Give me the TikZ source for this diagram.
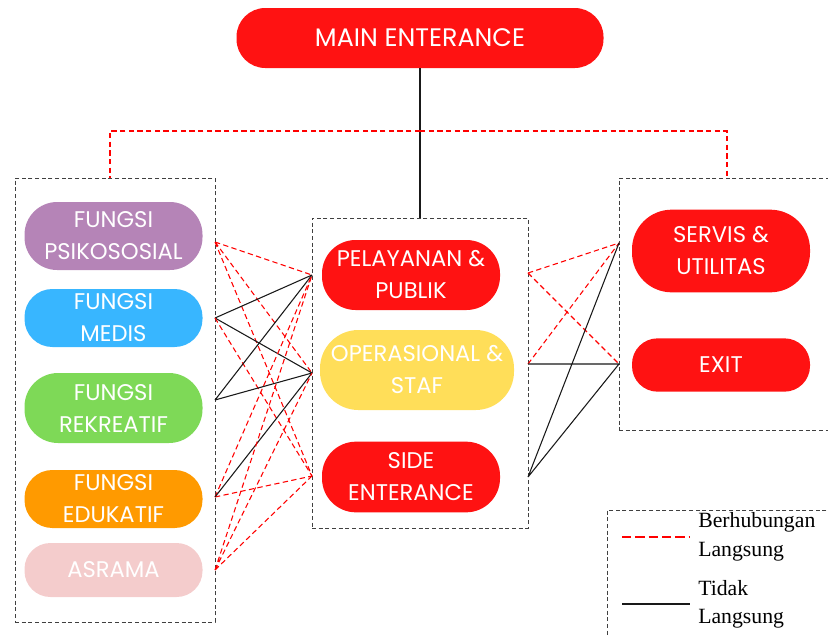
\documentclass[tikz,border=0pt]{standalone}
\usepackage{fontspec}
\setmainfont{Poppins}
\newfontfamily\legendfont{Liberation Serif}
\usetikzlibrary{positioning}

\definecolor{pillred}{HTML}{FF1212}
\definecolor{pillpurple}{HTML}{B584B7}
\definecolor{pillblue}{HTML}{38B6FF}
\definecolor{pillgreen}{HTML}{7ED957}
\definecolor{pillorange}{HTML}{FF9A00}
\definecolor{pillpink}{HTML}{F4CCCC}
\definecolor{pillyellow}{HTML}{FFDE59}

\tikzset{
	pill/.style 2 args={fill=#1, text=white, align=center, inner sep=0pt,
		minimum width=133.5pt, minimum height=#2, rounded corners=0.48*#2,
		font=\fontsize{17}{24}\selectfont},
	groupbox/.style={draw=black!75, dash pattern=on 3pt off 2pt, line width=0.75pt, inner sep=0pt},
	direct/.style={draw=red, dash pattern=on 4pt off 2.5pt, line width=0.8pt},
	indirect/.style={draw=black!90, line width=0.8pt},
	legendtext/.style={anchor=west, inner sep=0pt, font=\legendfont\fontsize{16.3}{18}\selectfont},
}

\begin{document}
\begin{tikzpicture}[x=0.75pt, y=-0.75pt]
	\useasboundingbox (0,0) rectangle (828,636);
	\node[groupbox, minimum width=150pt, minimum height=333pt] (leftbox) at (115,400) {};
	\node[groupbox, minimum width=162pt, minimum height=232.5pt] (midbox) at (420,373) {};
	\node[groupbox, minimum width=162pt, minimum height=189pt] (rightbox) at (727,304) {};
	\node[groupbox, minimum width=174.75pt, minimum height=105pt] (legendbox) at (723.5,580) {};
	\node[pill={pillred}{45pt}, minimum width=275.25pt, font=\fontsize{19}{20}\selectfont] (main) at (420,38) {MAIN ENTERANCE};
	\node[pill={pillpurple}{51pt}] (psiko) at (113.5,236) {FUNGSI\\PSIKOSOSIAL};
	\node[pill={pillblue}{43.5pt}] (medis) at (113.5,318) {FUNGSI\\MEDIS};
	\node[pill={pillgreen}{52.5pt}] (rekreatif) at (113.5,408) {FUNGSI\\REKREATIF};
	\node[pill={pillorange}{43.5pt}] (edukatif) at (113.5,499) {FUNGSI\\EDUKATIF};
	\node[pill={pillpink}{40.5pt}] (asrama) at (113.5,570) {ASRAMA};
	\node[pill={pillred}{52.5pt}] (pelayanan) at (411,275) {PELAYANAN \&\\PUBLIK};
	\node[pill={pillyellow}{60pt}, minimum width=145.5pt] (operasional) at (417,370) {OPERASIONAL \&\\STAF};
	\node[pill={pillred}{53pt}] (side) at (411,477) {SIDE\\ENTERANCE};
	\node[pill={pillred}{62pt}] (servis) at (721,251) {SERVIS \&\\UTILITAS};
	\node[pill={pillred}{40pt}] (exit) at (721,365) {EXIT};

	\coordinate (l1) at (215,242);
	\coordinate (l2) at (215,318);
	\coordinate (l3) at (215,400);
	\coordinate (l4) at (215,497);
	\coordinate (l5) at (215,570);
	\coordinate (m1) at (312,275);
	\coordinate (m2) at (312,373);
	\coordinate (m3) at (312,476);
	\coordinate (n1) at (528,273);
	\coordinate (n2) at (528,364);
	\coordinate (n3) at (528,477);
	\coordinate (r1) at (619,243);
	\coordinate (r2) at (619,364);
	\coordinate (split) at (420,131);

	\draw[indirect] (main.south) -- (midbox.north);
	\draw[direct] (split) -| ([xshift=-3.75pt]leftbox.north);
	\draw[direct] (split) -| (rightbox.north);

	\draw[direct] (l1) -- (m1) (l1) -- (m2) (l1) -- (m3);
	\draw[indirect] (l2) -- (m1) (l2) -- (m2);
	\draw[direct] (l2) -- (m3);
	\draw[indirect] (l3) -- (m1) (l3) -- (m2);
	\draw[direct] (l4) -- (m1) (l4) -- (m3);
	\draw[indirect] (l4) -- (m2);
	\draw[direct] (l5) -- (m1) (l5) -- (m2) (l5) -- (m3);

	\draw[direct] (n1) -- (r1) (n1) -- (r2) (n2) -- (r1);
	\draw[indirect] (n2) -- (r2) (n3) -- (r1) (n3) -- (r2);

	\coordinate (lg1) at (622,537);
	\coordinate (lg2) at (690,537);
	\coordinate (lg3) at (622,604);
	\coordinate (lg4) at (690,604);
	\draw[direct, line width=1pt, dash pattern=on 7pt off 3pt] (lg1) -- (lg2);
	\draw[indirect, line width=1pt] (lg3) -- (lg4);
	\node[legendtext] (lgdirect) at (698,522) {Berhubungan};
	\node[legendtext] (lgdirect2) at (698,552) {Langsung};
	\node[legendtext] (lgindirect) at (698,588) {Tidak};
	\node[legendtext] (lgindirect2) at (698,619) {Langsung};
\end{tikzpicture}
\end{document}
